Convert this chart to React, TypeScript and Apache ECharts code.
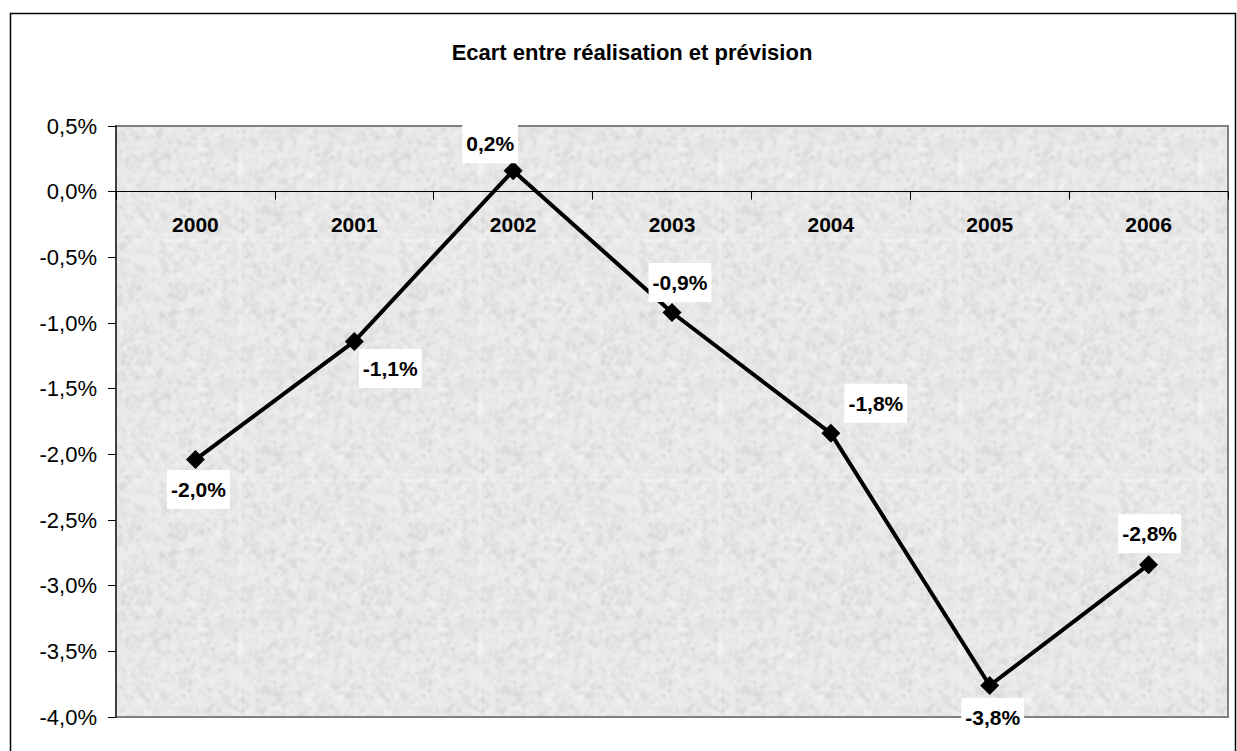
import React, { useEffect, useRef } from "react";
import * as echarts from "echarts";

// Forecast gap per year, in percent
const years = ["2000", "2001", "2002", "2003", "2004", "2005", "2006"];
const ecart = [-2.04, -1.14, 0.16, -0.92, -1.84, -3.76, -2.84];

// Value axis range and step
const yMin = -4;
const yMax = 0.5;
const yStep = 0.5;

// Where each value label sits relative to its marker (px)
const labelOffsets: [number, number][] = [
  [3, 30],
  [36, 27],
  [-23, -27],
  [8, -30],
  [45, -30],
  [3, 32],
  [1, -31],
];

const fmt = (v: number) => v.toFixed(1).replace(".", ",") + "%";

// Small seeded generator for the granite backdrop of the plot area
function mulberry32(a: number) {
  return function () {
    a |= 0;
    a = (a + 0x6d2b79f5) | 0;
    let t = Math.imul(a ^ (a >>> 15), 1 | a);
    t = (t + Math.imul(t ^ (t >>> 7), 61 | t)) ^ t;
    return ((t ^ (t >>> 14)) >>> 0) / 4294967296;
  };
}

function makeGranite(): HTMLCanvasElement {
  const size = 240;
  const raw = document.createElement("canvas");
  raw.width = size;
  raw.height = size;
  const ctx = raw.getContext("2d")!;
  ctx.fillStyle = "#ebebeb";
  ctx.fillRect(0, 0, size, size);
  const rnd = mulberry32(20061);
  const dot = (x: number, y: number, rx: number, ry: number, rot: number) => {
    for (const dx of [-size, 0, size]) {
      for (const dy of [-size, 0, size]) {
        ctx.beginPath();
        ctx.ellipse(x + dx, y + dy, rx, ry, rot, 0, Math.PI * 2);
        ctx.fill();
      }
    }
  };
  // soft lighter and darker clouds
  for (let i = 0; i < 800; i++) {
    const light = rnd() < 0.5;
    const g = light ? 250 : 210;
    ctx.fillStyle = `rgba(${g},${g},${g},${0.2 + rnd() * 0.25})`;
    dot(rnd() * size, rnd() * size, 2 + rnd() * 4, 1 + rnd() * 2.5, rnd() * Math.PI);
  }
  // fine grain
  for (let i = 0; i < 4600; i++) {
    const g = Math.round(190 + rnd() * 45);
    ctx.fillStyle = `rgba(${g},${g},${g},${0.3 + rnd() * 0.35})`;
    const r = 0.5 + rnd() * 0.9;
    dot(rnd() * size, rnd() * size, r * 1.5, r, rnd() * Math.PI);
  }
  // blur a 3x3 mosaic so the tile edges stay seamless, then keep the middle tile
  const big = document.createElement("canvas");
  big.width = size * 3;
  big.height = size * 3;
  const bctx = big.getContext("2d")!;
  bctx.filter = "blur(0.8px)";
  for (let i = 0; i < 3; i++) {
    for (let j = 0; j < 3; j++) bctx.drawImage(raw, i * size, j * size);
  }
  const out = document.createElement("canvas");
  out.width = size;
  out.height = size;
  out.getContext("2d")!.drawImage(big, size, size, size, size, 0, 0, size, size);
  return out;
}

export default function App() {
  const ref = useRef<HTMLDivElement>(null);

  useEffect(() => {
    if (!ref.current) return;
    const chart = echarts.init(ref.current, undefined, { renderer: "svg" });
    const font = 'Arial, "Liberation Sans", sans-serif';

    const gridTop = 126;
    const gridHeight = 591;
    // lift the category axis from the bottom edge to the zero line
    const zeroLift = (gridHeight * (0 - yMin)) / (yMax - yMin);

    chart.setOption({
      animation: false,
      backgroundColor: "#ffffff",
      graphic: [
        {
          type: "rect",
          z: -10,
          silent: true,
          shape: { x: 10.5, y: 13.5, width: 1225, height: 760 },
          style: { fill: "none", stroke: "#000000", lineWidth: 1.5 },
        },
        {
          type: "text",
          x: 632,
          y: 52,
          style: {
            text: "Ecart entre réalisation et prévision",
            fontFamily: font,
            fontSize: 22,
            fontWeight: "bold",
            fill: "#000000",
            align: "center",
            verticalAlign: "middle",
          },
        },
      ],
      grid: {
        left: 116,
        top: gridTop,
        width: 1112,
        height: gridHeight,
        show: true,
        backgroundColor: { image: makeGranite(), repeat: "repeat" },
        borderColor: "#808080",
        borderWidth: 2,
      },
      xAxis: {
        type: "category",
        data: years,
        boundaryGap: true,
        position: "bottom",
        offset: -zeroLift,
        axisLine: { onZero: false, lineStyle: { color: "#000000", width: 1 } },
        axisTick: { show: true, length: 8, lineStyle: { color: "#000000" } },
        axisLabel: {
          color: "#000000",
          fontFamily: font,
          fontSize: 21,
          fontWeight: "bold",
          margin: 22,
        },
        splitLine: { show: false },
      },
      yAxis: {
        type: "value",
        min: yMin,
        max: yMax,
        interval: yStep,
        axisLine: { show: true, lineStyle: { color: "#404040", width: 2 } },
        axisTick: { show: true, length: 8, lineStyle: { color: "#000000" } },
        axisLabel: {
          color: "#000000",
          fontFamily: font,
          fontSize: 22,
          margin: 19,
          formatter: (v: number) => fmt(v),
        },
        splitLine: { show: false },
      },
      series: [
        {
          type: "line",
          data: ecart.map((v, i) => ({
            value: v,
            label: { offset: labelOffsets[i] },
          })),
          symbol: "diamond",
          symbolSize: 19,
          itemStyle: { color: "#000000" },
          lineStyle: { color: "#000000", width: 4 },
          label: {
            show: true,
            position: "inside",
            align: "center",
            verticalAlign: "middle",
            formatter: (p: any) => fmt(p.value),
            color: "#000000",
            fontFamily: font,
            fontSize: 21,
            fontWeight: "bold",
            lineHeight: 21,
            backgroundColor: "#ffffff",
            padding: [9, 4, 9, 4],
          },
          z: 5,
        },
      ],
    });

    return () => chart.dispose();
  }, []);

  return (
    <div
      ref={ref}
      style={{ position: "fixed", left: 0, top: 0, width: 1237, height: 751 }}
    />
  );
}
